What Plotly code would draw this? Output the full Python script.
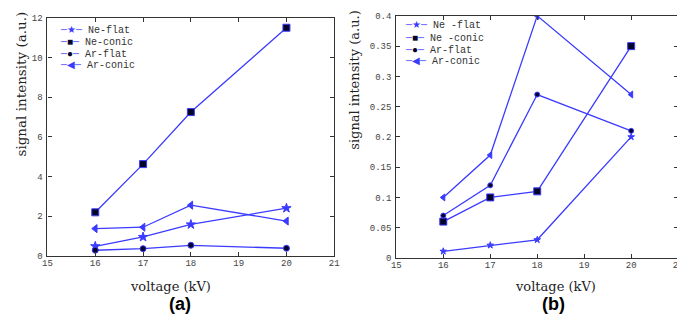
import plotly.graph_objects as go

voltage = [16, 17, 18, 20]

# panel (a)
a_ne_flat = [0.49, 0.96, 1.59, 2.41]
a_ne_conic = [2.2, 4.63, 7.25, 11.5]
a_ar_flat = [0.29, 0.37, 0.54, 0.39]
a_ar_conic = [1.38, 1.45, 2.56, 1.76]

# panel (b)
b_ne_flat = [0.011, 0.021, 0.03, 0.2]
b_ne_conic = [0.06, 0.1, 0.11, 0.35]
b_ar_flat = [0.07, 0.12, 0.27, 0.21]
b_ar_conic = [0.1, 0.17, 0.4, 0.27]

names_a = ["Ne-flat", "Ne-conic", "Ar-flat", "Ar-conic"]
names_b = ["Ne -flat", "Ne -conic", "Ar-flat", "Ar-conic"]

x_ticks = [15, 16, 17, 18, 19, 20, 21]
ya_ticks = [0, 2, 4, 6, 8, 10, 12]
yb_ticks = [0, 0.05, 0.1, 0.15, 0.2, 0.25, 0.3, 0.35, 0.4]
yb_labels = ["0", "0.05", "0.1", "0.15", "0.2", "0.25", "0.3", "0.35", "0.4"]

LINE = "#3b3bff"
DARK = "#05052a"
symbols = ["star", "square", "circle", "triangle-left"]
glyphs = ["\u2605", "\u25a0", "\u25cf", "\u25c0"]
mcolors = [LINE, DARK, DARK, LINE]

fig = go.Figure()

for i, (nm, ys) in enumerate(zip(names_a, [a_ne_flat, a_ne_conic, a_ar_flat, a_ar_conic])):
    fig.add_trace(go.Scatter(
        x=voltage, y=ys, name=nm, mode="lines+markers",
        line=dict(color=LINE, width=1.3),
        marker=dict(symbol=symbols[i], size=[7, 7, 6, 7][i], color=mcolors[i],
                    line=dict(color=LINE, width=1)),
        xaxis="x", yaxis="y", showlegend=False))

for i, (nm, ys) in enumerate(zip(names_b, [b_ne_flat, b_ne_conic, b_ar_flat, b_ar_conic])):
    fig.add_trace(go.Scatter(
        x=voltage, y=ys, name=nm, mode="lines+markers",
        line=dict(color=LINE, width=1.3),
        marker=dict(symbol=symbols[i], size=[5, 7, 5, 6][i], color=mcolors[i],
                    line=dict(color=LINE, width=1)),
        xaxis="x2", yaxis="y2", showlegend=False))

tickfont = dict(family="Liberation Mono", size=9, color="#444444")
axis_common = dict(showline=True, linecolor="#333333", linewidth=1.2, mirror="allticks",
                   ticks="inside", ticklen=4, tickcolor="#333333", showgrid=False,
                   zeroline=False, tickfont=tickfont)

fig.update_layout(
    width=685, height=315,
    margin=dict(l=0, r=0, t=0, b=0),
    paper_bgcolor="white", plot_bgcolor="white",
    xaxis=dict(domain=[35/685, 326/685], range=[15, 21], tickvals=x_ticks, anchor="y",
               ticklabelstandoff=-2, **axis_common),
    yaxis=dict(domain=[63/315, 309/315], range=[0, 12], tickvals=ya_ticks, anchor="x",
               ticklabelstandoff=2, **axis_common),
    xaxis2=dict(domain=[389/685, 675/685], range=[15, 21], tickvals=x_ticks, anchor="y2",
                ticklabelstandoff=-2, **axis_common),
    yaxis2=dict(domain=[61/315, 311/315], range=[0, 0.4], tickvals=yb_ticks, ticktext=yb_labels,
                anchor="x2", ticklabelstandoff=2, **axis_common),
    showlegend=False,
)

ann = []
legfont = dict(family="Liberation Mono", size=10, color="#333333")


def legend_rows(names, x0, y_rows):
    for i, nm in enumerate(names):
        sample = ("<span style='color:%s'>\u2500</span>"
                  "<span style='color:%s'>%s</span>"
                  "<span style='color:%s'>\u2500</span>") % (LINE, mcolors[i], glyphs[i], LINE)
        ann.append(dict(text=sample + " " + nm, x=x0 / 685, y=1 - y_rows[i] / 315,
                        xanchor="left", yanchor="middle", font=legfont, align="left"))


legend_rows(names_a, 46, [19, 32, 44, 55])
legend_rows(names_b, 396, [14, 27, 39.5, 51])

serif = dict(family="DejaVu Serif", size=13.5, color="#222222")
serif_b = dict(family="DejaVu Serif", size=13, color="#222222")
serif_x = dict(family="DejaVu Serif", size=13, color="#222222")
ann += [
    dict(text="signal intensity (a.u.)", x=8/685, y=1-74/315, textangle=-90, font=serif,
         xanchor="center", yanchor="middle"),
    dict(text="signal intensity (a.u.)", x=347/685, y=1-70/315, textangle=-90, font=serif_b,
         xanchor="center", yanchor="middle"),
    dict(text="voltage (kV)", x=160/685, y=1-283/315, font=serif_x, xanchor="center", yanchor="middle"),
    dict(text="voltage (kV)", x=551/685, y=1-284/315, font=serif_x, xanchor="center", yanchor="middle"),
    dict(text="<b>(a)</b>", x=169/685, y=1-302/315, font=dict(family="Liberation Sans", size=18, color="black"),
         xanchor="center", yanchor="middle"),
    dict(text="<b>(b)</b>", x=548/685, y=1-302/315, font=dict(family="Liberation Sans", size=18, color="black"),
         xanchor="center", yanchor="middle"),
]
for a in ann:
    a.update(xref="paper", yref="paper", showarrow=False)
fig.update_layout(annotations=ann)

fig.write_html("out.html")
